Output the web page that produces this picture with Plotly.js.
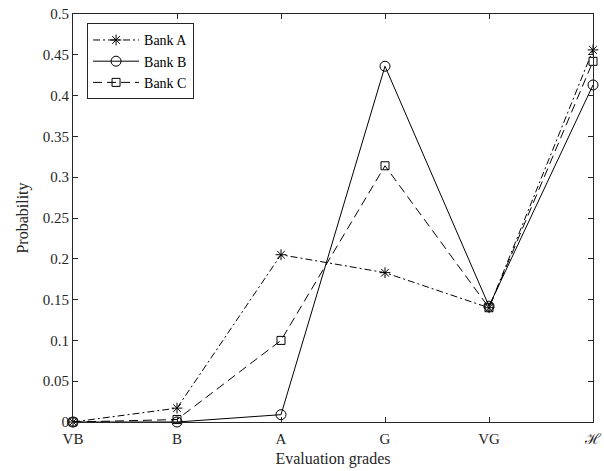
<!DOCTYPE html>
<html>
<head>
<meta charset="utf-8">
<script src="https://cdn.plot.ly/plotly-3.0.1.min.js"></script>
<style>html,body{margin:0;padding:0;background:#fff;}#chart{width:604px;height:471px;}</style>
</head>
<body>
<div id="chart"></div>
<script>
const grades = ['VB', 'B', 'A', 'G', 'VG', 'ℋ'];
const bankA = [0, 0.017, 0.205, 0.183, 0.140, 0.456];
const bankB = [0, 0.000, 0.009, 0.436, 0.142, 0.413];
const bankC = [0, 0.003, 0.100, 0.314, 0.140, 0.442];
const yTicks = [0, 0.05, 0.1, 0.15, 0.2, 0.25, 0.3, 0.35, 0.4, 0.45, 0.5];
const yTickText = ['0', '0.05', '0.1', '0.15', '0.2', '0.25', '0.3', '0.35', '0.4', '0.45', '0.5'];

const font = 'Liberation Serif, DejaVu Serif, serif';
const xs = grades.map((g, i) => i);

const traces = [
  {x: xs, y: bankA, name: 'Bank A', mode: 'lines+markers',
   line: {color: '#000', width: 1, dash: '7px,3px,2px,3px'},
   marker: {symbol: 'asterisk-open', size: 9, color: '#000', line: {color: '#000', width: 1}}, cliponaxis: false},
  {x: xs, y: bankB, name: 'Bank B', mode: 'lines+markers',
   line: {color: '#000', width: 1},
   marker: {symbol: 'circle-open', size: 10, color: '#000', line: {color: '#000', width: 1}}, cliponaxis: false},
  {x: xs, y: bankC, name: 'Bank C', mode: 'lines+markers',
   line: {color: '#000', width: 1, dash: '9px,5px'},
   marker: {symbol: 'square-open', size: 8, color: '#000', line: {color: '#000', width: 1}}, cliponaxis: false}
];

const layout = {
  width: 604, height: 471,
  margin: {l: 73, r: 11, t: 14, b: 49},
  paper_bgcolor: '#fff', plot_bgcolor: '#fff',
  font: {family: font, size: 14, color: '#262626'},
  showlegend: true,
  legend: {x: 0.027, y: 0.977, xanchor: 'left', yanchor: 'top',
           bgcolor: '#fff', bordercolor: '#262626', borderwidth: 1,
           font: {family: font, size: 14, color: '#000'},
           itemwidth: 46, tracegroupgap: 0},
  xaxis: {
    range: [0, 5], tickmode: 'array', tickvals: xs, ticktext: grades,
    ticks: 'inside', ticklen: 5, tickcolor: '#262626',
    showline: true, linecolor: '#262626', linewidth: 1, mirror: 'ticks',
    showgrid: false, zeroline: false, ticklabelstandoff: 3,
    tickfont: {family: font, size: 15, color: '#262626'},
    title: {text: 'Evaluation grades', font: {family: font, size: 16, color: '#262626'}, standoff: 6}
  },
  yaxis: {
    range: [0, 0.5], tickmode: 'array', tickvals: yTicks, ticktext: yTickText,
    ticks: 'inside', ticklen: 5, tickcolor: '#262626',
    showline: true, linecolor: '#262626', linewidth: 1, mirror: 'ticks',
    showgrid: false, zeroline: false,
    tickfont: {family: font, size: 15, color: '#262626'},
    title: {text: 'Probability', font: {family: font, size: 16, color: '#262626'}, standoff: 10}
  }
};

Plotly.newPlot('chart', traces, layout, {displayModeBar: false, staticPlot: true});
</script>
</body>
</html>
